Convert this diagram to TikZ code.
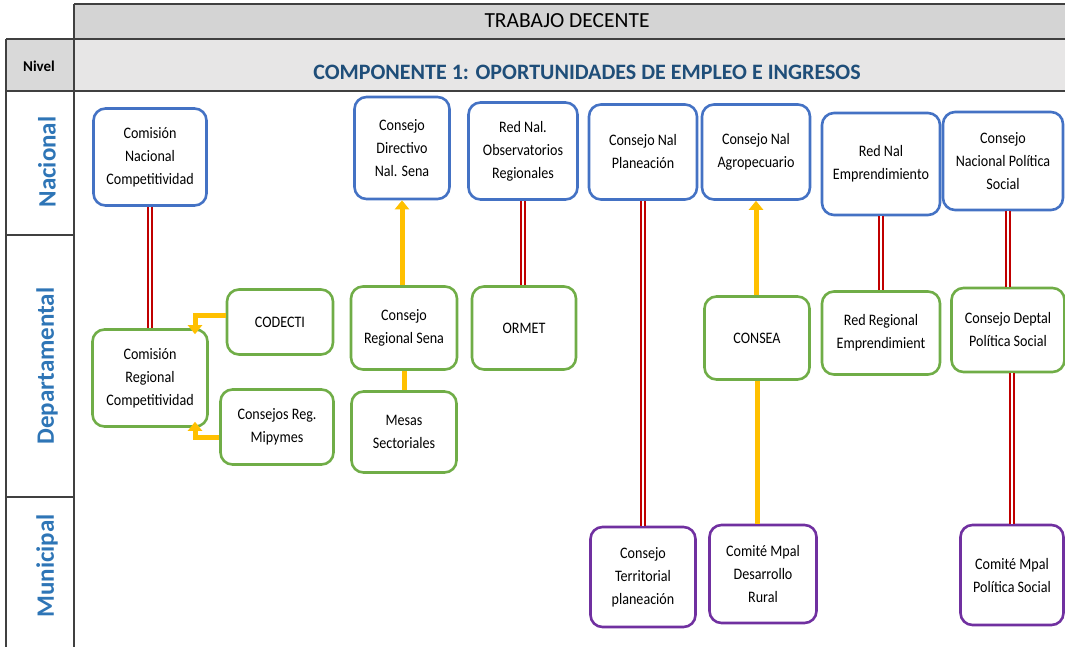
\documentclass[tikz,border=0pt]{standalone}
\usepackage{fontspec}
\setmainfont{Carlito}
\newfontfamily\nodefont[FakeStretch=0.88]{Carlito}
\usetikzlibrary{arrows.meta}
\definecolor{nblue}{HTML}{4472C4}
\definecolor{ngreen}{HTML}{70AD47}
\definecolor{npurple}{HTML}{7030A0}
\definecolor{nyellow}{HTML}{FFC000}
\definecolor{nred}{HTML}{C00000}
\definecolor{lvlblue}{HTML}{2E75B6}
\definecolor{hdrblue}{HTML}{1F4E79}
\definecolor{gridc}{HTML}{404040}
\definecolor{hdrA}{HTML}{D4D4D4}
\definecolor{hdrB}{HTML}{E7E6E6}
\definecolor{hdrC}{HTML}{D9D9D9}
\begin{document}
\begin{tikzpicture}[x=1pt,y=-1pt,
 box/.style={rounded corners=12pt, line width=2.6pt, fill=white, align=center,
   font=\nodefont\fontsize{16}{23}\selectfont, inner sep=2pt},
 nat/.style={box, draw=nblue},
 dep/.style={box, draw=ngreen},
 mun/.style={box, draw=npurple},
 redlink/.style={draw=nred, line width=1.5pt, double=white, double distance=2.6pt},
 ylink/.style={draw=nyellow, line width=5pt},
 yarrow/.style={ylink, -{Triangle[width=14pt,length=9pt]}},
 gridline/.style={draw=gridc, line width=1.4pt},
 lvl/.style={rotate=90, font=\bfseries\fontsize{25}{28}\selectfont, text=lvlblue},
]
\useasboundingbox (0,0) rectangle (1065,647);
% table
\fill[hdrA] (74,4) rectangle (1065,39);
\fill[hdrB] (74,39) rectangle (1065,91);
\fill[hdrC] (6,39) rectangle (74,91);
\draw[gridline] (74,4) -- (1065,4);
\draw[gridline] (6,39) -- (1065,39);
\draw[gridline] (6,91) -- (1065,91);
\draw[gridline] (74,4) -- (74,647);
\draw[gridline] (6,39) -- (6,647);
\draw[gridline] (6,235) -- (74,235);
\draw[gridline] (6,497) -- (74,497);
\node[font=\fontsize{21.5}{24}\selectfont] (title) at (567,21) {TRABAJO DECENTE};
\node[font=\bfseries\fontsize{22}{24}\selectfont, text=hdrblue] (comp) at (587,72) {COMPONENTE 1: OPORTUNIDADES DE EMPLEO E INGRESOS};
\node[font=\bfseries\fontsize{15}{18}\selectfont] (nivel) at (39,66) {Nivel};
\node[lvl] (lnac) at (47,162) {Nacional};
\node[lvl] (ldep) at (47,366) {Departamental};
\node[lvl] (lmun) at (47,566) {Municipal};
% nacional
\node[nat, minimum width=113pt, minimum height=97pt] (cnc) at (150,157) {Comisión\\Nacional\\Competitividad};
\node[nat, minimum width=95pt, minimum height=102pt] (cdns) at (402,148) {Consejo\\Directivo\\Nal. Sena};
\node[nat, minimum width=109pt, minimum height=97pt] (rnor) at (523,151) {Red Nal.\\Observatorios\\Regionales};
\node[nat, minimum width=108pt, minimum height=95pt] (cnp) at (643,152) {Consejo Nal\\Planeación};
\node[nat, minimum width=108pt, minimum height=95pt] (cna) at (756,152) {Consejo Nal\\Agropecuario};
\node[nat, minimum width=118pt, minimum height=102pt] (rne) at (881,164) {Red Nal\\Emprendimiento};
\node[nat, minimum width=120pt, minimum height=98pt] (cnps) at (1003,161) {Consejo\\Nacional Política\\Social};
% departamental
\node[dep, minimum width=106pt, minimum height=65pt] (codecti) at (280,322) {CODECTI};
\node[dep, minimum width=115pt, minimum height=97pt] (crc) at (150,378) {Comisión\\Regional\\Competitividad};
\node[dep, minimum width=113pt, minimum height=75pt] (mipy) at (277,427) {Consejos Reg.\\Mipymes};
\node[dep, minimum width=106pt, minimum height=83pt] (crs) at (404,328) {Consejo\\Regional Sena};
\node[dep, minimum width=105pt, minimum height=81pt] (mesas) at (404,432) {Mesas\\Sectoriales};
\node[dep, minimum width=104pt, minimum height=83pt] (ormet) at (524,328) {ORMET};
\node[dep, minimum width=105pt, minimum height=83pt] (consea) at (757,338) {CONSEA};
\node[dep, minimum width=118pt, minimum height=83pt] (rre) at (881,333) {Red Regional\\Emprendimient};
\node[dep, minimum width=113pt, minimum height=84pt] (cdps) at (1008,330) {Consejo Deptal\\Política Social};
% municipal
\node[mun, minimum width=105pt, minimum height=100pt] (ctp) at (643,577) {Consejo\\Territorial\\planeación};
\node[mun, minimum width=107pt, minimum height=98pt] (cmdr) at (763,574) {Comité Mpal\\Desarrollo\\Rural};
\node[mun, minimum width=103pt, minimum height=100pt] (cmps) at (1012,575) {Comité Mpal\\Política Social};
% connectors
\draw[redlink] (cnc.south) -- (crc.north);
\draw[redlink] (rnor.south) -- (rnor.south |- ormet.north);
\draw[redlink] (cnp.south) -- (ctp.north);
\draw[redlink] (rne.south) -- (rre.north);
\draw[redlink] (cnps.south -| cdps.north) -- (cdps.north);
\draw[redlink] (cdps.south -| cmps.north) -- (cmps.north);
\draw[yarrow] (crs.north -| cdns.south) -- (cdns.south);
\draw[ylink] (mesas.north) -- (crs.south);
\draw[yarrow] (consea.north -| cna.south) -- (cna.south);
\draw[ylink] (cmdr.north -| consea.south) -- (consea.south);
\draw[yarrow] ([yshift=7pt]codecti.west) -| ([xshift=45pt,yshift=-6pt]crc.north);
\draw[yarrow] ([yshift=-10pt]mipy.west) -| ([xshift=45pt,yshift=6pt]crc.south);
\end{tikzpicture}
\end{document}
